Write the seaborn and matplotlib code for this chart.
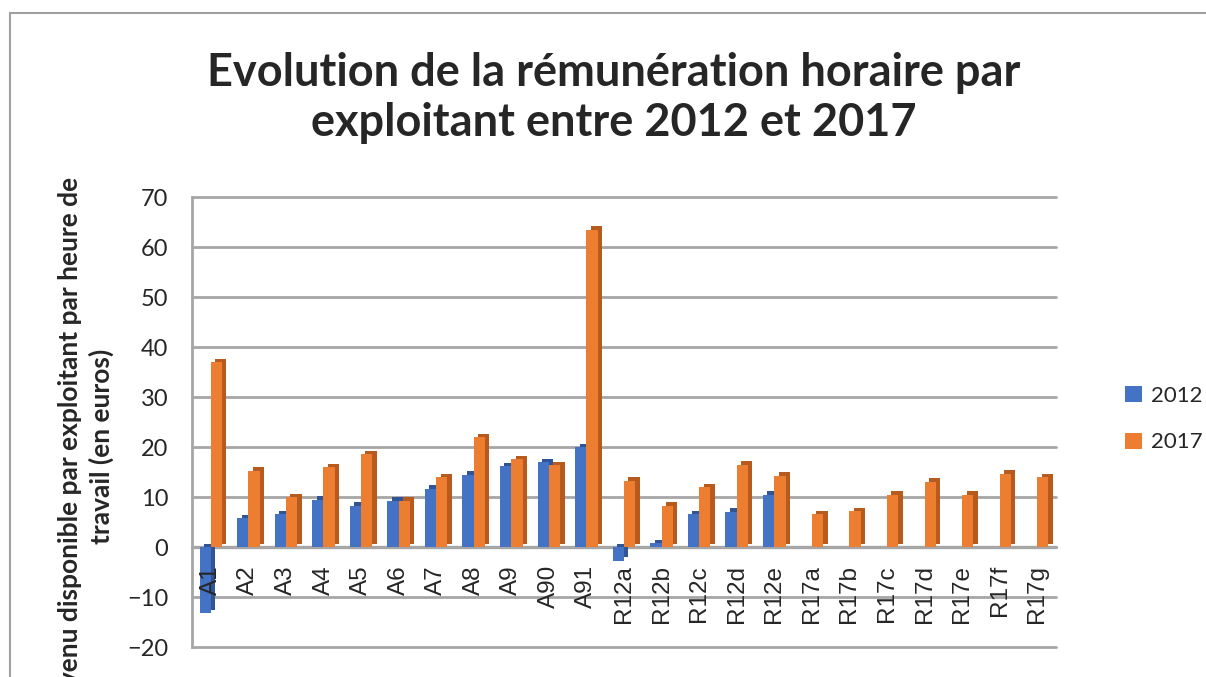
import numpy as np
import pandas as pd
import seaborn as sns
import matplotlib.pyplot as plt
import matplotlib.patheffects as pe
from matplotlib.patches import Rectangle

# ------------------------------------------------------------
# DATA
# ------------------------------------------------------------
categories = ["A1", "A2", "A3", "A4", "A5", "A6", "A7", "A8", "A9", "A90", "A91",
              "R12a", "R12b", "R12c", "R12d", "R12e",
              "R17a", "R17b", "R17c", "R17d", "R17e", "R17f", "R17g"]

values_2012 = [-13.2, 5.8, 6.6, 9.5, 8.3, 9.3, 11.7, 14.5, 16.2, 17.0, 20.0,
               -2.7, 0.8, 6.6, 7.1, 10.5,
               np.nan, np.nan, np.nan, np.nan, np.nan, np.nan, np.nan]

values_2017 = [37.0, 15.3, 10.0, 16.0, 18.6, 9.3, 14.0, 22.0, 17.6, 16.4, 63.5,
               13.3, 8.3, 12.0, 16.5, 14.3,
               6.6, 7.2, 10.5, 13.1, 10.5, 14.7, 14.0]

years = ["2012", "2017"]
y_ticks = [-20, -10, 0, 10, 20, 30, 40, 50, 60, 70]

df = pd.DataFrame({
    "categorie": categories * 2,
    "annee": [years[0]] * len(categories) + [years[1]] * len(categories),
    "valeur": values_2012 + values_2017,
}).dropna()

# ------------------------------------------------------------
# STYLE
# ------------------------------------------------------------
sns.set_style("white")
plt.rcParams["font.family"] = ["Lato", "DejaVu Sans"]

colors = {"2012": "#4472C4", "2017": "#ED7D31"}
side_colors = {"2012": "#2F5597", "2017": "#B65A1E"}
grid_color = "#A6A6A6"

fig = plt.figure(figsize=(12.06, 6.77), dpi=100)
ax = fig.add_axes([192 / 1206, 30 / 677, (1056 - 192) / 1206, 450 / 677])

# gridlines behind the bars (back wall + floor)
for t in y_ticks:
    ax.axhline(t, color=grid_color, linewidth=2.4 if t == 0 else 2,
               zorder=0, clip_on=False)

sns.barplot(
    data=df, x="categorie", y="valeur", hue="annee",
    order=categories, hue_order=years, palette=colors,
    width=0.6, saturation=1, errorbar=None, linewidth=0, ax=ax,
)

# fake 3D side faces
for container, yr in zip(ax.containers, years):
    for bar in container:
        bar.set_edgecolor("none")
        bar.set_path_effects([
            pe.SimplePatchShadow(offset=(3.2, 2.2), shadow_rgbFace=side_colors[yr], alpha=1.0),
            pe.Normal(),
        ])

# ------------------------------------------------------------
# AXES
# ------------------------------------------------------------
ax.set_axisbelow(False)
ax.set_xlim(-0.5, len(categories) - 0.5)
ax.set_ylim(-20, 70)
ax.set_yticks(y_ticks)
ax.grid(False)

for side in ["top", "right", "bottom"]:
    ax.spines[side].set_visible(False)
ax.spines["left"].set_color(grid_color)
ax.spines["left"].set_linewidth(2)
ax.spines["bottom"].set_position(("data", 0))

ax.tick_params(axis="y", length=7, width=1.5, color=grid_color, pad=10, labelsize=17)
ax.tick_params(axis="x", length=0, pad=13, labelsize=17.5, labelrotation=90,
               labelfontfamily="Liberation Sans")

ax.set_xlabel("")
ax.set_ylabel("")

fig.text(86 / 1206, 0.34,
         "Revenu disponible par exploitant par heure de\ntravail (en euros)",
         rotation=90, ha="center", va="center", ma="center",
         fontsize=19, fontweight="bold", linespacing=1.3)

fig.text(0.509, 0.855,
         "Evolution de la rémunération horaire par\nexploitant entre 2012 et 2017",
         ha="center", va="center", ma="center",
         fontsize=32.5, fontweight="bold", linespacing=1.22)

# legend
ax.legend(
    loc="center left", bbox_to_anchor=(1114 / 1206, 0.381),
    bbox_transform=fig.transFigure, frameon=False, fontsize=16,
    handlelength=0.75, handleheight=0.75, handletextpad=0.4,
    labelspacing=1.2, borderpad=0,
)

# chart frame
fig.patches.append(Rectangle((10 / 1206, -0.1), 1.2, (677 - 13) / 677 + 0.1,
                             transform=fig.transFigure, fill=False,
                             edgecolor="#A0A0A0", linewidth=1.5))

fig.savefig("out.png", dpi=100)
